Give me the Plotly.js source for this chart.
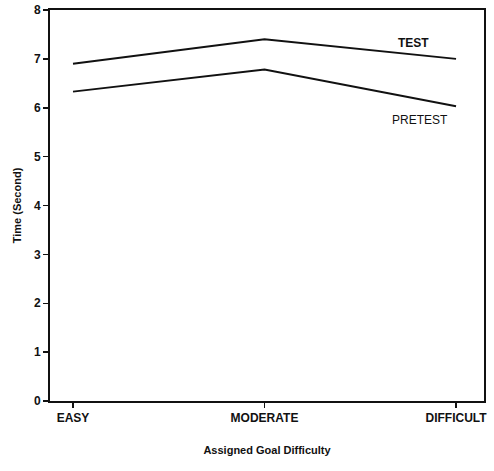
<!DOCTYPE html>
<html>
<head>
<meta charset="utf-8">
<script src="https://cdn.plot.ly/plotly-3.0.1.min.js"></script>
<style>
  html, body { margin: 0; padding: 0; background: #fff; }
  #chart { width: 494px; height: 471px; }
</style>
</head>
<body>
<div id="chart"></div>
<script>
// Mean response time by assigned goal difficulty
const categories = ["EASY", "MODERATE", "DIFFICULT"];
const testTimes = [6.9, 7.4, 7.0];
const pretestTimes = [6.33, 6.78, 6.03];
const yTicks = [0, 1, 2, 3, 4, 5, 6, 7, 8];

const font = "'Liberation Sans Narrow', 'Liberation Sans', Arial, sans-serif";
const xIdx = categories.map((_, i) => i);

const lineStyle = { color: "#111", width: 2 };

const traces = [
  { x: xIdx, y: testTimes, mode: "lines", line: lineStyle, name: "TEST", hoverinfo: "y" },
  { x: xIdx, y: pretestTimes, mode: "lines", line: lineStyle, name: "PRETEST", hoverinfo: "y" }
];

const layout = {
  width: 494,
  height: 471,
  margin: { l: 50, r: 10, t: 10, b: 70 },
  paper_bgcolor: "#fff",
  plot_bgcolor: "#fff",
  showlegend: false,
  font: { family: font, color: "#111", size: 12 },
  xaxis: {
    range: [-0.12, 2.146],
    tickvals: xIdx,
    ticktext: categories,
    ticks: "outside",
    ticklen: 5,
    tickwidth: 1.5,
    tickcolor: "#111",
    showline: true,
    linecolor: "#111",
    linewidth: 2,
    mirror: true,
    showgrid: false,
    zeroline: false,
    tickfont: { family: font, size: 12, color: "#111", weight: "bold" },
    title: { text: "Assigned Goal Difficulty", standoff: 22,
             font: { family: font, size: 11, color: "#111", weight: "bold" } }
  },
  yaxis: {
    range: [0, 8],
    tickvals: yTicks,
    ticks: "outside",
    ticklen: 5,
    tickwidth: 1.5,
    tickcolor: "#111",
    showline: true,
    linecolor: "#111",
    linewidth: 2,
    mirror: true,
    showgrid: false,
    zeroline: false,
    tickfont: { family: font, size: 12, color: "#111", weight: "bold" },
    title: { text: "Time (Second)", standoff: 10,
             font: { family: font, size: 11, color: "#111", weight: "bold" } }
  },
  annotations: [
    { x: 1.78, y: 7.33, xref: "x", yref: "y", text: "TEST", showarrow: false,
      font: { family: font, size: 12, color: "#111", weight: "bold" } },
    { x: 1.81, y: 5.75, xref: "x", yref: "y", text: "PRETEST", showarrow: false,
      font: { family: font, size: 12, color: "#111" } }
  ]
};

Plotly.newPlot("chart", traces, layout, { displayModeBar: false, staticPlot: true });
</script>
</body>
</html>
